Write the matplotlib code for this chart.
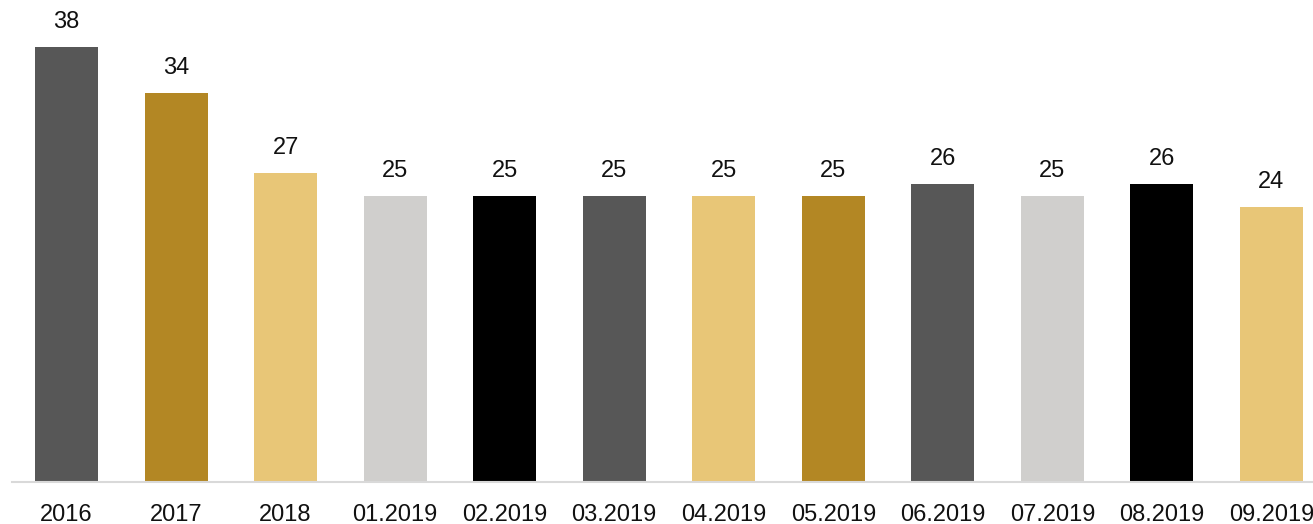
import matplotlib.pyplot as plt
import numpy as np

plt.rcParams['font.family'] = ['Liberation Sans', 'DejaVu Sans']

# data
categories = ['2016', '2017', '2018', '01.2019', '02.2019', '03.2019', '04.2019',
              '05.2019', '06.2019', '07.2019', '08.2019', '09.2019']
values = [38, 34, 27, 25, 25, 25, 25, 25, 26, 25, 26, 24]
bar_colors = ['#575757', '#B38724', '#E8C677', '#D0CFCD', '#000000', '#575757',
              '#E8C677', '#B38724', '#575757', '#D0CFCD', '#000000', '#E8C677']

fig = plt.figure(figsize=(13.13, 5.24), dpi=100)
ax = fig.add_axes([12/1313, 42/524, 1 - 12/1313, 482/524])

x = np.arange(len(categories))
bars = ax.bar(x, values, width=0.575, color=bar_colors)

for xi, v in zip(x, values):
    ax.annotate(str(v), (xi, v), xytext=(0, 10), textcoords='offset points',
                ha='center', va='bottom', fontsize=17, color='#111111')

ax.set_xlim(-0.498, 11.38)
ax.set_ylim(0, 42.1)
ax.set_xticks(x)
ax.set_xticklabels(categories, fontsize=17, color='#111111')
ax.tick_params(axis='x', length=0, pad=15.5)
ax.set_yticks([])
for s in ['top', 'right', 'left']:
    ax.spines[s].set_visible(False)
ax.spines['bottom'].set_color('#D9D9D9')
ax.spines['bottom'].set_linewidth(1.5)

fig.savefig('out.png', dpi=100)
